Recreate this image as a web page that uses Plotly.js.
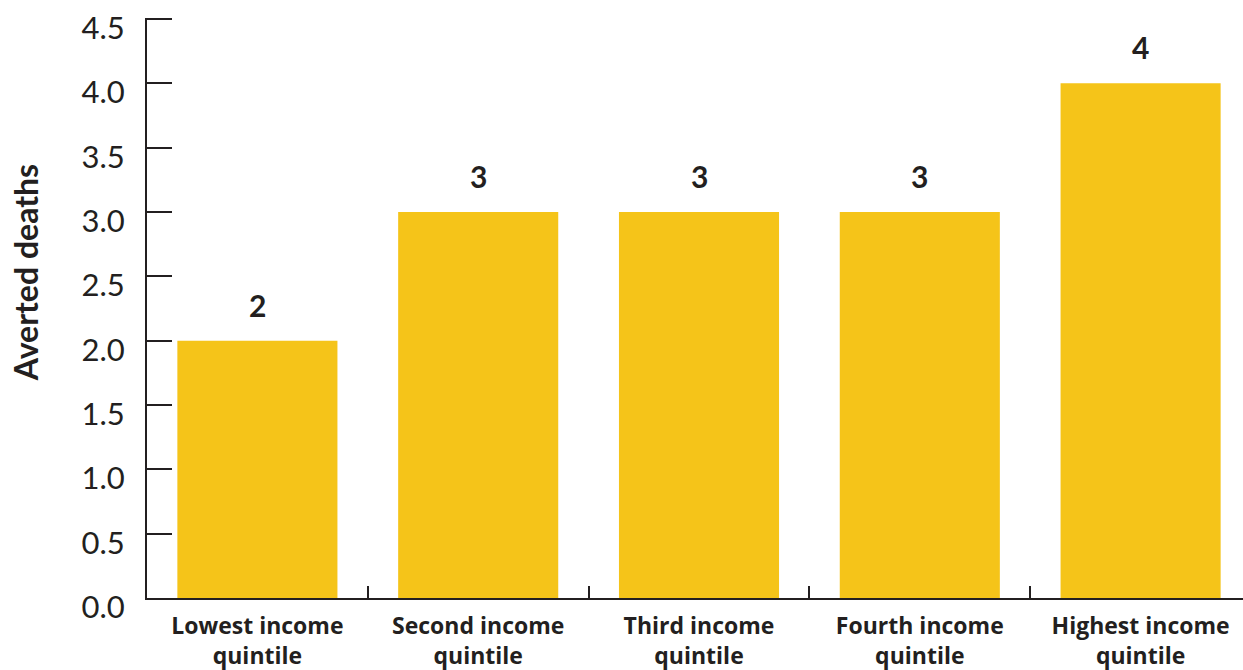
<!DOCTYPE html>
<html>
<head>
<meta charset="utf-8">
<script src="https://cdn.plot.ly/plotly-3.0.1.min.js"></script>
<style>
html,body{margin:0;padding:0;overflow:hidden;background:#fff;}
#chart{width:1251px;height:670px;}
</style>
</head>
<body>
<div id="chart"></div>
<script>
var categories = ["Lowest income<br>quintile", "Second income<br>quintile", "Third income<br>quintile", "Fourth income<br>quintile", "Highest income<br>quintile"];
var avertedDeaths = [2, 3, 3, 3, 4];
var yTickValues = [0, 0.5, 1, 1.5, 2, 2.5, 3, 3.5, 4, 4.5];
var yTickLabels = ["0.0", "0.5", "1.0", "1.5", "2.0", "2.5", "3.0", "3.5", "4.0", "4.5"];
var yTitle = "Averted deaths";

var ink = '#231f20';
var fontFam = 'Lato, "Open Sans", sans-serif';
var labelFam = '"Open Sans", Lato, sans-serif';

var trace = {
  type: 'bar',
  x: categories,
  y: avertedDeaths,
  marker: {color: '#F5C419', line: {width: 0}},
  hoverinfo: 'none'
};

var annotations = categories.map(function(c, i){
  return {
    x: c, y: avertedDeaths[i], xref: 'x', yref: 'y',
    text: '<b>' + avertedDeaths[i] + '</b>',
    showarrow: false, yanchor: 'bottom', yshift: 16,
    font: {family: fontFam, size: 30, color: ink}
  };
});
annotations.push({
  xref: 'paper', yref: 'paper', x: 0, y: 0.56,
  xanchor: 'center', yanchor: 'middle', xshift: -122,
  textangle: -90, showarrow: false,
  text: '<b>' + yTitle + '</b>',
  font: {family: fontFam, size: 32, color: ink}
});

var layout = {
  width: 1251, height: 670,
  margin: {l: 147, r: 0, t: 18, b: 72},
  paper_bgcolor: '#fff', plot_bgcolor: '#fff',
  showlegend: false,
  bargap: 0.275,
  font: {family: fontFam, color: ink},
  xaxis: {
    type: 'category',
    showline: true, linecolor: ink, linewidth: 2,
    ticks: 'inside', tickson: 'boundaries', ticklen: 12, tickwidth: 2, tickcolor: ink,
    tickfont: {family: labelFam, size: 23, color: ink, weight: 'bold'},
    ticklabelstandoff: 6,
    showgrid: false, zeroline: false, fixedrange: true
  },
  yaxis: {
    range: [0, 4.508],
    tickmode: 'array', tickvals: yTickValues, ticktext: yTickLabels,
    showline: true, linecolor: ink, linewidth: 2,
    ticks: 'inside', ticklen: 25, tickwidth: 2, tickcolor: ink,
    tickfont: {family: fontFam, size: 31, color: ink},
    ticklabelstandoff: 14,
    ticklabelshift: 9,
    showgrid: false, zeroline: false,
    fixedrange: true
  },
  annotations: annotations
};

Plotly.newPlot('chart', [trace], layout, {displayModeBar: false, staticPlot: true});
</script>
</body>
</html>
